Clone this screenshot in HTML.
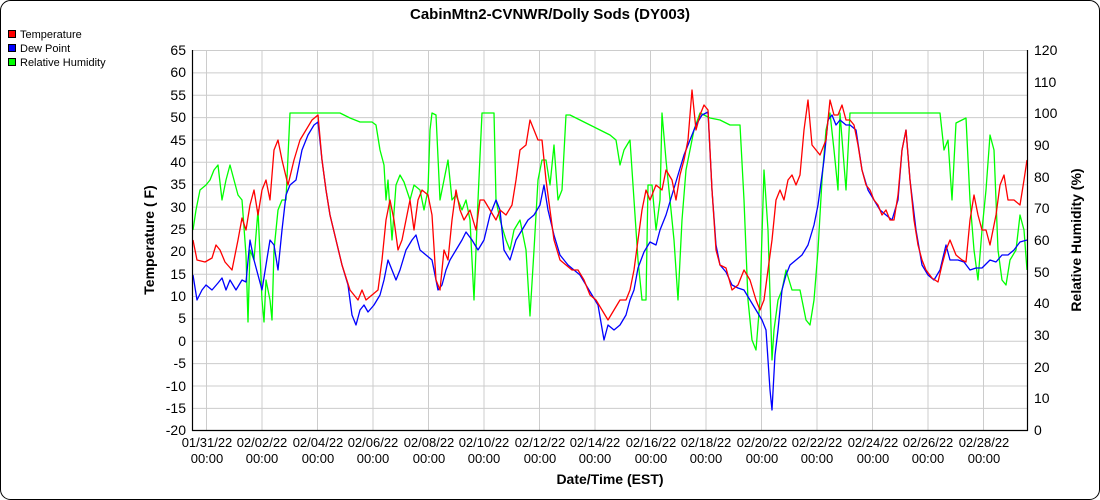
<!DOCTYPE html>
<html><head><meta charset="utf-8"><style>
html,body{margin:0;padding:0;background:#fff;}
svg{display:block;font-family:"Liberation Sans",Arial,sans-serif;}
</style></head><body>
<svg width="1100" height="500" viewBox="0 0 1100 500" xmlns="http://www.w3.org/2000/svg">
<rect x="0.5" y="0.5" width="1099" height="499" rx="10" fill="#fff" stroke="#000"/>
<text x="550" y="19" text-anchor="middle" font-size="15" font-weight="bold">CabinMtn2-CVNWR/Dolly Sods (DY003)</text>
<g font-size="11">
<rect x="8.5" y="30.5" width="7" height="7" fill="#f00" stroke="#000"/><text x="20" y="38">Temperature</text>
<rect x="8.5" y="44.5" width="7" height="7" fill="#00f" stroke="#000"/><text x="20" y="52">Dew Point</text>
<rect x="8.5" y="58.5" width="7" height="7" fill="#0f0" stroke="#000"/><text x="20" y="66">Relative Humidity</text>
</g>
<g stroke="#ccc" stroke-width="1">
<line x1="192" y1="50.5" x2="1027" y2="50.5"/><line x1="192" y1="72.9" x2="1027" y2="72.9"/><line x1="192" y1="95.2" x2="1027" y2="95.2"/><line x1="192" y1="117.6" x2="1027" y2="117.6"/><line x1="192" y1="140" x2="1027" y2="140"/><line x1="192" y1="162.3" x2="1027" y2="162.3"/><line x1="192" y1="184.7" x2="1027" y2="184.7"/><line x1="192" y1="207.1" x2="1027" y2="207.1"/><line x1="192" y1="229.4" x2="1027" y2="229.4"/><line x1="192" y1="251.8" x2="1027" y2="251.8"/><line x1="192" y1="274.2" x2="1027" y2="274.2"/><line x1="192" y1="296.5" x2="1027" y2="296.5"/><line x1="192" y1="318.9" x2="1027" y2="318.9"/><line x1="192" y1="341.3" x2="1027" y2="341.3"/><line x1="192" y1="363.6" x2="1027" y2="363.6"/><line x1="192" y1="386" x2="1027" y2="386"/><line x1="192" y1="408.4" x2="1027" y2="408.4"/>
<line x1="206.5" y1="50" x2="206.5" y2="430"/><line x1="262" y1="50" x2="262" y2="430"/><line x1="317.5" y1="50" x2="317.5" y2="430"/><line x1="373" y1="50" x2="373" y2="430"/><line x1="428.5" y1="50" x2="428.5" y2="430"/><line x1="484" y1="50" x2="484" y2="430"/><line x1="539.5" y1="50" x2="539.5" y2="430"/><line x1="595" y1="50" x2="595" y2="430"/><line x1="650.5" y1="50" x2="650.5" y2="430"/><line x1="706" y1="50" x2="706" y2="430"/><line x1="761.5" y1="50" x2="761.5" y2="430"/><line x1="817" y1="50" x2="817" y2="430"/><line x1="872.5" y1="50" x2="872.5" y2="430"/><line x1="928" y1="50" x2="928" y2="430"/><line x1="983.5" y1="50" x2="983.5" y2="430"/>
</g>
<g fill="none" stroke-width="1.3" stroke-linejoin="round">
<polyline stroke="#0f0" points="193,230 196,210 200,190 206,185 210,180 214,170 218,165 222,200 226,180 230,165 234,180 238,195 242,200 246,255 248,322 250,250 254,260 258,210 262,300 264,322 266,280 270,300 272,320 274,250 278,210 282,200 286,200 290,113 300,113 310,113 318,113 330,113 340,113 350,118 360,122 372,122 376,125 380,150 384,165 386,200 388,180 392,240 396,185 400,175 404,182 410,200 414,185 420,190 424,210 428,190 430,130 432,113 436,115 440,200 444,180 448,160 452,200 456,195 462,210 466,200 470,220 474,300 478,200 482,113 490,113 494,113 496,200 500,220 506,240 510,250 514,230 520,220 526,250 530,316 534,250 538,180 542,160 546,160 550,185 554,145 558,200 562,190 566,115 570,115 580,120 590,125 600,130 610,135 616,140 620,165 624,150 630,140 634,200 638,260 642,300 646,300 648,185 652,185 656,230 660,200 662,113 666,160 670,200 674,240 678,300 682,220 686,170 690,150 694,130 700,113 710,118 720,120 730,125 740,125 744,200 748,300 752,340 756,350 760,300 764,170 768,230 772,360 774,330 778,300 782,290 786,270 792,290 800,290 806,320 810,325 814,300 818,250 822,180 826,130 830,113 834,150 838,190 840,113 846,190 850,113 860,113 870,113 880,113 890,113 900,113 910,113 920,113 930,113 940,113 944,150 948,140 952,200 956,123 962,120 966,118 970,200 974,250 978,280 982,230 986,190 990,135 994,150 998,250 1002,280 1006,285 1010,260 1016,250 1020,215 1024,230 1027,270"/>
<polyline stroke="#00f" points="193,275 197,300 202,290 206,285 212,290 218,283 222,278 226,290 230,280 236,290 242,280 246,282 250,240 254,260 258,275 262,290 266,265 270,240 274,245 278,270 282,230 286,195 290,185 296,180 302,150 308,135 314,125 318,122 322,160 326,190 330,215 336,240 342,265 348,285 352,315 356,325 360,310 364,305 368,312 374,305 380,295 384,280 388,260 392,270 396,280 400,270 406,250 412,240 416,235 420,250 426,255 432,260 438,290 442,285 446,270 450,260 456,250 462,240 466,232 472,240 478,250 484,240 490,215 496,200 500,210 504,250 510,260 516,240 522,230 528,220 534,215 540,205 544,185 548,210 554,235 560,255 568,265 574,270 580,275 586,285 592,295 598,305 604,340 608,325 614,330 620,325 626,315 630,300 634,290 638,268 644,252 650,242 656,245 660,230 666,215 672,195 678,175 684,155 690,140 696,125 702,115 708,112 712,190 716,245 720,265 726,272 732,285 738,288 744,290 750,300 756,310 762,320 766,330 770,390 772,410 775,355 778,330 782,290 786,275 790,265 796,260 802,255 808,245 814,225 818,205 824,160 828,120 832,115 836,125 840,120 846,125 850,125 856,130 862,170 868,190 874,200 880,210 886,215 892,220 898,200 902,150 906,130 910,180 916,230 922,265 928,275 934,280 940,270 946,245 950,260 958,260 964,262 970,270 976,268 982,268 990,260 996,262 1002,255 1008,255 1014,250 1020,242 1027,240"/>
<polyline stroke="#f00" points="193,240 197,260 205,262 212,258 216,245 220,250 225,262 232,270 238,240 242,218 246,230 250,205 254,190 258,215 262,190 266,180 270,200 274,150 278,140 282,160 288,185 294,160 300,140 306,130 312,120 318,115 322,160 326,190 330,215 336,240 342,265 350,290 358,300 362,290 366,300 372,295 378,290 382,260 386,220 390,200 394,220 398,250 402,240 406,220 410,200 414,230 418,200 422,190 428,195 432,215 436,280 440,290 444,250 448,260 452,220 456,190 460,210 464,220 470,210 476,230 480,200 484,200 490,210 496,220 500,210 506,215 512,205 516,180 520,150 526,145 530,120 534,130 538,140 542,140 546,180 550,210 554,240 560,260 566,265 572,270 578,270 584,280 590,295 596,300 602,310 608,320 614,310 620,300 626,300 630,290 634,270 638,240 642,210 646,190 650,200 656,185 662,190 666,170 672,180 676,200 680,175 684,160 688,140 692,90 696,130 700,115 704,105 708,110 712,190 716,250 720,265 726,268 732,290 738,285 744,270 750,280 756,300 760,310 764,300 768,270 772,240 776,200 780,190 784,200 788,180 792,175 796,185 800,175 804,130 808,100 812,145 816,150 820,155 826,140 830,100 834,115 838,115 842,105 846,120 850,120 854,125 858,145 862,170 866,185 870,190 874,200 878,205 882,215 886,210 890,220 894,220 898,195 902,150 906,130 910,180 914,220 918,245 922,260 926,270 932,278 938,282 942,265 946,250 950,240 956,255 962,260 966,262 970,220 974,195 978,215 982,230 986,230 990,245 996,215 1000,185 1004,175 1008,200 1014,200 1020,205 1024,180 1027,160"/>
</g>
<g stroke="#000" stroke-width="1.2" fill="none">
<line x1="192.5" y1="50" x2="192.5" y2="431"/><line x1="1027.5" y1="50" x2="1027.5" y2="431"/><line x1="192" y1="430.5" x2="1028" y2="430.5"/>
</g>
<g font-size="14" text-anchor="end">
<text x="186" y="55">65</text><text x="186" y="77">60</text><text x="186" y="100">55</text><text x="186" y="122">50</text><text x="186" y="145">45</text><text x="186" y="167">40</text><text x="186" y="189">35</text><text x="186" y="212">30</text><text x="186" y="234">25</text><text x="186" y="256">20</text><text x="186" y="279">15</text><text x="186" y="301">10</text><text x="186" y="323">5</text><text x="186" y="346">0</text><text x="186" y="368">-5</text><text x="186" y="391">-10</text><text x="186" y="413">-15</text><text x="186" y="435">-20</text>
</g>
<g font-size="14" text-anchor="start">
<text x="1034" y="55">120</text><text x="1034" y="87">110</text><text x="1034" y="118">100</text><text x="1034" y="150">90</text><text x="1034" y="182">80</text><text x="1034" y="213">70</text><text x="1034" y="245">60</text><text x="1034" y="277">50</text><text x="1034" y="308">40</text><text x="1034" y="340">30</text><text x="1034" y="372">20</text><text x="1034" y="403">10</text><text x="1034" y="435">0</text>
</g>
<g font-size="13" text-anchor="middle">
<text x="207" y="447">01/31/22</text><text x="207" y="463">00:00</text>
<text x="262" y="447">02/02/22</text><text x="262" y="463">00:00</text>
<text x="318" y="447">02/04/22</text><text x="318" y="463">00:00</text>
<text x="373" y="447">02/06/22</text><text x="373" y="463">00:00</text>
<text x="429" y="447">02/08/22</text><text x="429" y="463">00:00</text>
<text x="484" y="447">02/10/22</text><text x="484" y="463">00:00</text>
<text x="540" y="447">02/12/22</text><text x="540" y="463">00:00</text>
<text x="595" y="447">02/14/22</text><text x="595" y="463">00:00</text>
<text x="651" y="447">02/16/22</text><text x="651" y="463">00:00</text>
<text x="706" y="447">02/18/22</text><text x="706" y="463">00:00</text>
<text x="762" y="447">02/20/22</text><text x="762" y="463">00:00</text>
<text x="817" y="447">02/22/22</text><text x="817" y="463">00:00</text>
<text x="873" y="447">02/24/22</text><text x="873" y="463">00:00</text>
<text x="928" y="447">02/26/22</text><text x="928" y="463">00:00</text>
<text x="984" y="447">02/28/22</text><text x="984" y="463">00:00</text>
</g>
<text x="610" y="484" text-anchor="middle" font-size="14" font-weight="bold">Date/Time (EST)</text>
<text transform="translate(154,240) rotate(-90)" text-anchor="middle" font-size="14" font-weight="bold">Temperature ( F)</text>
<text transform="translate(1081,240) rotate(-90)" text-anchor="middle" font-size="14" font-weight="bold">Relative Humidity (%)</text>
</svg>
</body></html>
